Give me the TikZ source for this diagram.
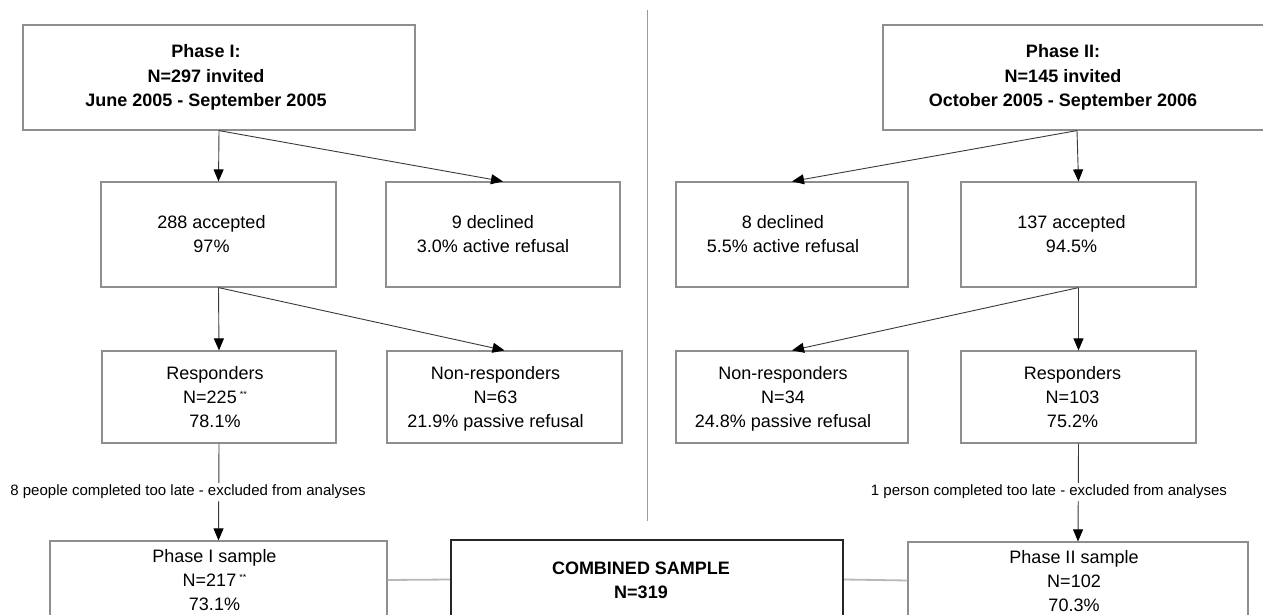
\documentclass[tikz,border=0pt]{standalone}
\usepackage{fontspec}
\setmainfont{Liberation Sans}
\usetikzlibrary{arrows.meta}
\definecolor{boxgray}{HTML}{8E8E8E}
\definecolor{linegray}{HTML}{3A3A3A}
\definecolor{divgray}{HTML}{9A9A9A}
\definecolor{joingray}{HTML}{B8B8B8}
\definecolor{combdark}{HTML}{262626}
\newcommand{\stars}{\,\raisebox{6pt}{\fontsize{9}{9}\selectfont **}}
\begin{document}
\begin{tikzpicture}[x=1pt,y=-1pt,
  box/.style={draw=boxgray, line width=1.2pt, fill=white, inner sep=0pt},
  txt/.style={font=\fontsize{18}{24}\selectfont, align=center, inner sep=0pt},
  stxt/.style={txt, yshift=-2pt},
  btxt/.style={font=\fontsize{18}{24.5}\selectfont\bfseries, align=center, inner sep=0pt},
  lbl/.style={font=\fontsize{15}{18}\selectfont, fill=white, inner sep=2pt},
  arr/.style={draw=linegray, line width=0.9pt, -{Triangle[length=12pt,width=10pt,color=black]}},
  divline/.style={draw=divgray, line width=1pt},
  joinline/.style={draw=joingray, line width=1.8pt},
  combbox/.style={draw=combdark, line width=2.2pt, fill=white, inner sep=0pt}
]
\useasboundingbox (0,0) rectangle (1263,615);
\fill[white] (0,0) rectangle (1263,615);
\clip (0,0) rectangle (1263,615);

% divider
\coordinate (dtop) at (647,10);
\coordinate (dbot) at (647,521);
\draw[divline] (dtop) -- (dbot);

% top boxes
\node[box, minimum width=392pt, minimum height=105pt,
  label={[btxt,xshift=-13pt]center:{Phase I:\\N=297 invited\\June 2005 - September 2005}}] (P1) at (219,77.5) {};
\node[box, minimum width=388pt, minimum height=105pt,
  label={[btxt,xshift=-14pt]center:{Phase II:\\N=145 invited\\October 2005 - September 2006}}] (P2) at (1077,77.5) {};

% second row
\node[box, minimum width=235pt, minimum height=105pt,
  label={[txt,xshift=-7pt]center:{288 accepted\\97\%}}] (A1) at (218.5,234.5) {};
\node[box, minimum width=234pt, minimum height=105pt,
  label={[txt,xshift=-10pt]center:{9 declined\\3.0\% active refusal}}] (D1) at (503,234.5) {};
\node[box, minimum width=232pt, minimum height=105pt,
  label={[txt,xshift=-9pt]center:{8 declined\\5.5\% active refusal}}] (D2) at (792,234.5) {};
\node[box, minimum width=235pt, minimum height=105pt,
  label={[txt,xshift=-7pt]center:{137 accepted\\94.5\%}}] (A2) at (1078.5,234.5) {};

% third row
\node[box, minimum width=234pt, minimum height=92pt,
  label={[stxt,xshift=-4pt]center:{\strut Responders\\\strut N=225\stars\\\strut 78.1\%}}] (R1) at (219,397) {};
\node[box, minimum width=235pt, minimum height=92pt,
  label={[stxt,xshift=-9pt]center:{\strut Non-responders\\\strut N=63\\\strut 21.9\% passive refusal}}] (N1) at (504.5,397) {};
\node[box, minimum width=232pt, minimum height=92pt,
  label={[stxt,xshift=-9pt]center:{\strut Non-responders\\\strut N=34\\\strut 24.8\% passive refusal}}] (N2) at (792,397) {};
\node[box, minimum width=235pt, minimum height=92pt,
  label={[stxt,xshift=-6pt]center:{\strut Responders\\\strut N=103\\\strut 75.2\%}}] (R2) at (1078.5,397) {};

% bottom row
\node[box, minimum width=337pt, minimum height=78pt,
  label={[stxt,xshift=-4pt]center:{\strut Phase I sample\\\strut N=217\stars\\\strut 73.1\%}}] (S1) at (218.5,580) {};
\node[combbox, minimum width=392pt, minimum height=79pt,
  label={[btxt,xshift=-6pt,yshift=-1pt]center:{COMBINED SAMPLE\\N=319}}] (C) at (647,579.5) {};
\node[box, minimum width=340pt, minimum height=77pt,
  label={[stxt,xshift=-4pt]center:{\strut Phase II sample\\\strut N=102\\\strut 70.3\%}}] (S2) at (1078,580.5) {};

% connectors
\draw[arr] (P1.south) -- (A1.north);
\draw[arr] (P1.south) -- (D1.north);
\draw[arr] (P2.south) -- (D2.north);
\draw[arr] (P2.south) -- (A2.north);
\draw[arr] (A1.south) -- (R1.north);
\draw[arr] (A1.south) -- (N1.north);
\draw[arr] (A2.south) -- (N2.north);
\draw[arr] (A2.south) -- (R2.north);
\draw[arr] (R1.south) -- (S1.north);
\draw[arr] (R2.south) -- (S2.north);
\draw[joinline] (S1.east) -- (C.west);
\draw[joinline] (C.east) -- (S2.west);

% labels on the exclusion lines
\node[lbl] (L1) at (188,492) {8 people completed too late - excluded from analyses};
\node[lbl] (L2) at (1049,492) {1 person completed too late - excluded from analyses};
\end{tikzpicture}
\end{document}
